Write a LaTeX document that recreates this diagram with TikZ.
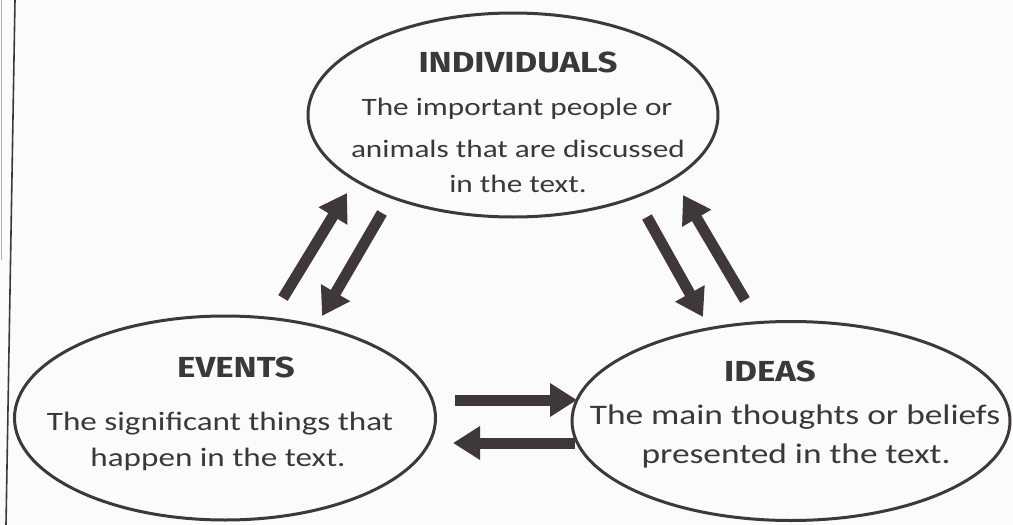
\documentclass[tikz,border=0pt]{standalone}
\usepackage{fontspec}
\usetikzlibrary{shapes.geometric,arrows.meta}
\newfontfamily\bodyfont{Carlito}[FakeStretch=1.25]
\newfontfamily\headfont{Fira Sans}[FakeStretch=1.2]
\definecolor{ink}{RGB}{62,56,57}
\definecolor{txt}{RGB}{58,56,58}
\definecolor{paper}{RGB}{251,251,251}
\tikzset{
  bubble/.style={ellipse, draw=ink, line width=3pt, inner sep=0pt},
  head/.style={anchor=base, text=txt, font=\headfont\bfseries\fontsize{29}{32}\selectfont},
  body/.style={anchor=base, text=txt, font=\bodyfont\fontsize{25}{39}\selectfont},
  bodyL/.style={body, font=\bodyfont\fontsize{26.5}{39}\selectfont},
  bodyR/.style={body, font=\bodyfont\fontsize{28.3}{39}\selectfont},
  flow/.style={draw=ink, line width=11pt, -{Triangle[length=27pt,width=32pt]}}
}
\begin{document}
\begin{tikzpicture}[x=1pt,y=-1pt]
  \fill[paper] (0,0) rectangle (1013,525);
  \useasboundingbox (0,0) rectangle (1013,525);
  % page edge rules on the left
  \draw[ink!40, line width=1pt] (1,0) -- (1,260);
  \draw[ink, line width=1.6pt] (15,0) -- (6,525);

  % the three bubbles
  \node[bubble, minimum width=410pt, minimum height=204pt] (ind) at (513,115) {};
  \node[bubble, minimum width=421pt, minimum height=204pt] (evt) at (225,418) {};
  \node[bubble, minimum width=438pt, minimum height=199pt] (ide) at (791,421) {};

  % texts
  \node[head] (indh) at (518,72) {INDIVIDUALS};
  \node[body] (ind1) at (517,115) {The important people or};
  \node[body] (ind2) at (518,157) {animals that are discussed};
  \node[body] (ind3) at (518,192) {in the text.};

  \node[head] (evth) at (236,377) {EVENTS};
  \node[bodyL] (evt1) at (220,430) {The significant things that};
  \node[bodyL] (evt2) at (218,466) {happen in the text.};

  \node[head] (ideh) at (770,381) {IDEAS};
  \node[bodyR] (ide1) at (795,424) {The main thoughts or beliefs};
  \node[bodyR] (ide2) at (796,463) {presented in the text.};

  % arrow end points
  \coordinate (a1s) at (283,298); \coordinate (a1e) at (347,193);
  \coordinate (a2s) at (382,213); \coordinate (a2e) at (322,316);
  \coordinate (a3s) at (647,217); \coordinate (a3e) at (703,317);
  \coordinate (a4s) at (745,300); \coordinate (a4e) at (683,195);
  \coordinate (a5s) at (455,400); \coordinate (a5e) at (577,400);
  \coordinate (a6s) at (575,443); \coordinate (a6e) at (453,443);

  \draw[flow] (a1s) -- (a1e);
  \draw[flow] (a2s) -- (a2e);
  \draw[flow] (a3s) -- (a3e);
  \draw[flow] (a4s) -- (a4e);
  \draw[flow] (a5s) -- (a5e);
  \draw[flow] (a6s) -- (a6e);
\end{tikzpicture}
\end{document}
